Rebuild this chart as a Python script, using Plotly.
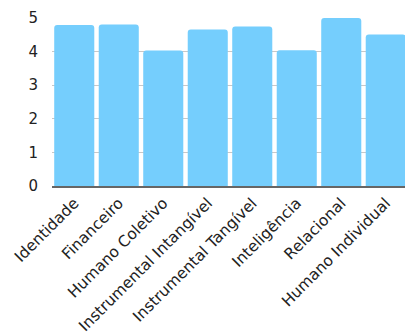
import plotly.graph_objects as go

categories = ["Identidade", "Financeiro", "Humano Coletivo", "Instrumental Intangível",
              "Instrumental Tangível", "Inteligência", "Relacional", "Humano Individual"]
values = [4.79, 4.81, 4.03, 4.66, 4.75, 4.04, 5.0, 4.51]
y_ticks = [0, 1, 2, 3, 4, 5]

fig = go.Figure(go.Bar(
    x=categories, y=values,
    marker=dict(color="#75CEFD", line=dict(width=0)),
    hoverinfo="skip",
))
fig.update_layout(
    width=405, height=328,
    margin=dict(l=44, r=5, t=10, b=150),
    paper_bgcolor="white", plot_bgcolor="white",
    bargap=0.1, barcornerradius=3,
    font=dict(family="DejaVu Sans, sans-serif", color="#222"),
    showlegend=False,
    xaxis=dict(tickangle=-45, tickfont=dict(size=15.5), showline=True,
               linecolor="#666", linewidth=2, showgrid=False, ticks="",
               automargin=False),
    yaxis=dict(range=[0, 5], tickvals=y_ticks, showgrid=True, gridcolor="#c8c8c8",
               gridwidth=1, zeroline=False, tickfont=dict(size=15),
               ticks="outside", ticklen=10, tickcolor="white", automargin=False),
)
fig.write_html("out.html")
